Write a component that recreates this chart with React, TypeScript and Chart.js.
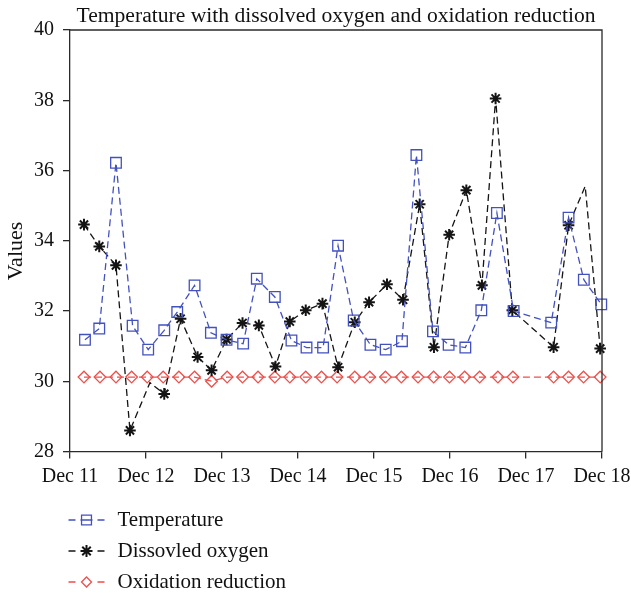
import React, { useEffect, useRef } from 'react';
import { Chart, registerables } from 'chart.js';

Chart.register(...registerables);

const chartTitle = 'Temperature with dissolved oxygen and oxidation reduction';
const yAxisTitle = 'Values';
const xTickLabels = ['Dec 11', 'Dec 12', 'Dec 13', 'Dec 14', 'Dec 15', 'Dec 16', 'Dec 17', 'Dec 18'];
const yTicks = [28, 30, 32, 34, 36, 38, 40];
const seriesNames = ['Temperature', 'Dissovled oxygen', 'Oxidation reduction'];

// x = days after Dec 11
const tempDays = [0.197, 0.385, 0.605, 0.824, 1.029, 1.24, 1.411, 1.639, 1.854, 2.06, 2.278, 2.458, 2.695, 2.914, 3.112, 3.33, 3.527, 3.733, 3.953, 4.154, 4.368, 4.558, 4.776, 4.982, 5.202, 5.412, 5.617, 5.837, 6.332, 6.56, 6.761, 6.99];
const tempValues = [31.18, 31.5, 36.22, 31.58, 30.9, 31.45, 31.97, 32.73, 31.38, 31.18, 31.07, 32.92, 32.4, 31.16, 30.96, 30.96, 33.86, 31.73, 31.04, 30.9, 31.14, 36.44, 31.42, 31.04, 30.96, 32.02, 34.79, 32.0, 31.67, 34.66, 32.89, 32.19];

const doDays = [0.184, 0.385, 0.605, 0.789, 1.052, 1.24, 1.455, 1.679, 1.863, 2.06, 2.27, 2.485, 2.704, 2.892, 3.102, 3.322, 3.527, 3.747, 3.935, 4.171, 4.382, 4.601, 4.789, 4.989, 5.215, 5.42, 5.6, 5.82, 6.363, 6.56, 6.779, 6.976];
const doValues = [34.46, 33.84, 33.3, 28.6, 29.96, 29.64, 31.78, 30.69, 30.31, 31.19, 31.66, 31.59, 30.42, 31.7, 32.02, 32.21, 30.4, 31.68, 32.25, 32.76, 32.32, 35.04, 30.97, 34.17, 35.44, 32.73, 38.05, 32.02, 30.97, 34.44, 35.55, 30.93];
const doUnmarked = [4, 30];

const orpDays = [0.184, 0.394, 0.605, 0.811, 1.016, 1.226, 1.433, 1.639, 1.863, 2.068, 2.27, 2.474, 2.695, 2.892, 3.102, 3.309, 3.514, 3.747, 3.944, 4.15, 4.36, 4.579, 4.785, 4.993, 5.193, 5.39, 5.63, 5.828, 6.363, 6.56, 6.757, 6.976];
const orpValues = [30.12, 30.12, 30.12, 30.12, 30.12, 30.12, 30.12, 30.12, 30.0, 30.12, 30.12, 30.12, 30.12, 30.12, 30.12, 30.12, 30.12, 30.12, 30.12, 30.12, 30.12, 30.12, 30.12, 30.12, 30.12, 30.12, 30.12, 30.12, 30.12, 30.12, 30.12, 30.12];

const BLUE = '#4351bf';
const BLACK = '#141414';
const RED = '#ee4f4a';
const AXIS = '#2a2a2a';
const FONT = "'Liberation Serif', 'DejaVu Serif', serif";
const DASH = [7, 4];

const toPoints = (xs: number[], ys: number[]) => xs.map((x, i) => ({ x, y: ys[i] }));

function drawMarker(ctx: CanvasRenderingContext2D, kind: string, x: number, y: number, r: number) {
  ctx.beginPath();
  if (kind === 'rect') {
    const s = r * Math.SQRT1_2;
    ctx.rect(x - s, y - s, 2 * s, 2 * s);
  } else if (kind === 'rectRot') {
    ctx.moveTo(x, y - r);
    ctx.lineTo(x + r, y);
    ctx.lineTo(x, y + r);
    ctx.lineTo(x - r, y);
    ctx.closePath();
  } else {
    ctx.moveTo(x - r, y); ctx.lineTo(x + r, y);
    ctx.moveTo(x, y - r); ctx.lineTo(x, y + r);
    const d = r * Math.SQRT1_2;
    ctx.moveTo(x - d, y - d); ctx.lineTo(x + d, y + d);
    ctx.moveTo(x - d, y + d); ctx.lineTo(x + d, y - d);
  }
  ctx.stroke();
}

const decorPlugin = {
  id: 'decor',
  afterDraw(chart: any) {
    const { ctx, chartArea } = chart;
    ctx.save();
    ctx.strokeStyle = AXIS;
    ctx.lineWidth = 1.3;
    ctx.setLineDash([]);
    ctx.beginPath();
    ctx.moveTo(chartArea.left, chartArea.top);
    ctx.lineTo(chartArea.right, chartArea.top);
    ctx.lineTo(chartArea.right, chartArea.bottom);
    ctx.stroke();

    ctx.save();
    ctx.translate(16, 251);
    ctx.rotate(-Math.PI / 2);
    ctx.fillStyle = '#111';
    ctx.font = `22px ${FONT}`;
    ctx.textAlign = 'center';
    ctx.textBaseline = 'middle';
    ctx.fillText(yAxisTitle, 0, 0);
    ctx.restore();

    const items = [
      { color: BLUE, kind: 'rect', r: 7, through: true, w: 1.3 },
      { color: BLACK, kind: 'star', r: 6, through: false, w: 2 },
      { color: RED, kind: 'rectRot', r: 5, through: false, w: 1.3 },
    ];
    const x0 = chartArea.left - 1.5;
    const rowY = [520, 551, 582];
    items.forEach((it, i) => {
      const y = rowY[i];
      ctx.strokeStyle = it.color;
      ctx.lineWidth = 1.3;
      ctx.setLineDash([]);
      ctx.beginPath();
      ctx.moveTo(x0, y); ctx.lineTo(x0 + 7, y);
      ctx.moveTo(x0 + 29, y); ctx.lineTo(x0 + 36, y);
      if (it.through) { ctx.moveTo(x0 + 12, y); ctx.lineTo(x0 + 24, y); }
      ctx.stroke();
      ctx.lineWidth = it.w;
      drawMarker(ctx, it.kind, x0 + 18, y, it.r);
      ctx.fillStyle = '#111';
      ctx.font = `21px ${FONT}`;
      ctx.textAlign = 'left';
      ctx.textBaseline = 'middle';
      ctx.fillText(seriesNames[i], x0 + 49, y);
    });
    ctx.restore();
  },
};

export default function App() {
  const ref = useRef<HTMLCanvasElement | null>(null);
  useEffect(() => {
    if (!ref.current) return;
    const common = {
      borderWidth: 1.3,
      borderDash: DASH,
      backgroundColor: 'rgba(0,0,0,0)',
      pointBorderWidth: 1.3,
      tension: 0,
      clip: false as any,
    };
    const chart = new Chart(ref.current, {
      type: 'line',
      data: {
        datasets: [
          {
            ...common,
            label: seriesNames[0],
            data: toPoints(tempDays, tempValues),
            borderColor: BLUE,
            pointBorderColor: BLUE,
            pointBackgroundColor: 'rgba(0,0,0,0)',
            pointStyle: 'rect',
            pointRadius: 7.5,
          },
          {
            ...common,
            label: seriesNames[1],
            data: toPoints(doDays, doValues),
            borderColor: BLACK,
            pointBorderColor: BLACK,
            pointBackgroundColor: 'rgba(0,0,0,0)',
            pointBorderWidth: 2,
            pointStyle: 'star',
            pointRadius: (c: any) => (doUnmarked.includes(c.dataIndex) ? 0 : 5.8),
          },
          {
            ...common,
            label: seriesNames[2],
            data: toPoints(orpDays, orpValues),
            borderColor: RED,
            pointBorderColor: RED,
            pointBackgroundColor: 'rgba(0,0,0,0)',
            pointStyle: 'rectRot',
            pointRadius: 5.8,
          },
        ],
      },
      options: {
        animation: false,
        responsive: false,
        maintainAspectRatio: false,
        layout: { padding: { left: 0, right: 29, top: 0, bottom: 0 } },
        plugins: {
          legend: { display: false },
          tooltip: { enabled: false },
          title: {
            display: true,
            fullSize: false,
            text: chartTitle,
            color: '#111',
            font: { family: FONT, size: 21.6, weight: 'normal' as any, lineHeight: 1.2 },
            padding: { top: 3, bottom: 1.1 },
          },
        },
        scales: {
          x: {
            type: 'linear',
            min: 0,
            max: xTickLabels.length - 1,
            afterFit: (s: any) => { s.height = 145.5; s.paddingLeft = 0; s.paddingRight = 0; },
            ticks: {
              stepSize: 1,
              autoSkip: false,
              maxRotation: 0,
              padding: 6,
              color: '#111',
              font: { family: FONT, size: 20 },
              callback: (v: any) => xTickLabels[Math.round(Number(v))] ?? '',
            },
            grid: { display: true, drawOnChartArea: false, drawTicks: true, tickLength: 7, color: AXIS, lineWidth: 1.3 },
            border: { display: true, color: AXIS, width: 1.3 },
          },
          y: {
            type: 'linear',
            min: yTicks[0],
            max: yTicks[yTicks.length - 1],
            afterFit: (s: any) => { s.width = 70; },
            afterBuildTicks: (s: any) => { s.ticks = yTicks.map((v) => ({ value: v })); },
            ticks: {
              padding: 9,
              color: '#111',
              font: { family: FONT, size: 20 },
            },
            grid: { display: true, drawOnChartArea: false, drawTicks: true, tickLength: 7, color: AXIS, lineWidth: 1.3 },
            border: { display: true, color: AXIS, width: 1.3 },
          },
        },
      },
      plugins: [decorPlugin],
    });
    return () => chart.destroy();
  }, []);

  return (
    <div style={{ position: 'absolute', left: 0, top: 0, width: 631, height: 597, background: '#fff' }}>
      <canvas ref={ref} width={631} height={597} style={{ display: 'block', width: 631, height: 597 }} />
    </div>
  );
}
